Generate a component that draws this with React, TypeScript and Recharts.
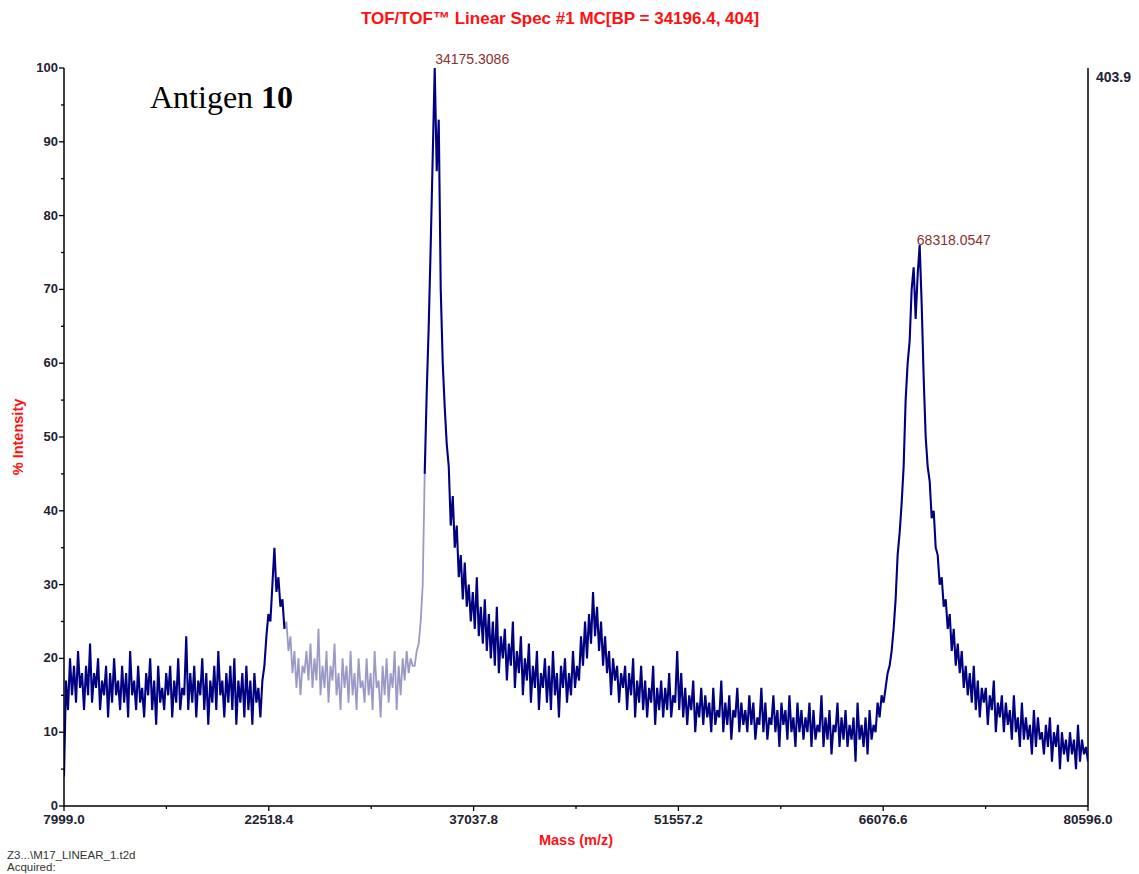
import React from 'react';
import { LineChart, Line, XAxis, YAxis, ReferenceLine, ReferenceDot } from 'recharts';

const MASS_MIN = 7999.0;
const MASS_MAX = 80596.0;

const X_TICKS_MAJOR = [7999.0, 22518.4, 37037.8, 51557.2, 66076.6, 80596.0];
const X_TICKS_MINOR = [15258.7, 29777.9, 44297.5, 58816.9, 73336.3];
const Y_TICKS_MAJOR = [0, 10, 20, 30, 40, 50, 60, 70, 80, 90, 100];
const Y_TICKS_MINOR = [5, 15, 25, 35, 45, 55, 65, 75, 85, 95];

// % intensity, sampled evenly from 7999.0 to 80596.0 m/z
const SEG_BASELINE = [
  4, 17, 13, 20, 15, 19, 14, 21, 16, 18,
  13, 19, 15, 22, 14, 18, 16, 20, 13, 17,
  15, 19, 12, 18, 14, 20, 15, 17, 13, 19,
  14, 18, 12, 21, 15, 17, 13, 19, 14, 16,
  12, 18, 15, 20, 13, 17, 11, 19, 14, 16,
  13, 18, 15, 19, 12, 17, 14, 20, 13, 16,
  15, 23, 13, 18, 14, 19, 12, 17, 15, 20,
  13, 18, 11, 17, 14, 19, 13, 21, 15, 17,
  12, 18, 14, 19, 13, 20, 11, 17, 14, 18,
  12, 19, 13, 17, 11, 18, 14, 16, 12, 17,
];
const SEG_SMALL_PEAK = [
  19, 23, 26, 25, 30, 35, 29, 31, 27, 28,
  24, 25, 21, 23, 18, 21, 16, 20, 15, 19,
  18, 21, 17, 22, 16, 20, 17, 24, 15, 19,
  16, 21, 14, 19, 17, 22, 15, 18, 13, 20,
  16, 19, 14, 21, 15, 18, 13, 20, 16, 17,
  14, 20, 15, 18, 13, 21, 16, 17, 12, 19,
  15, 20, 14, 18, 16, 21, 13, 19, 15, 20,
  17, 21, 18, 20, 19, 19, 21, 22, 25, 30,
];
const SEG_MAIN_PEAK = [45, 56, 65, 76, 88, 100, 86, 93, 70, 60];
const SEG_MIDDLE = [
  54, 49, 46, 38, 42, 35, 38, 31, 34, 28,
  33, 27, 30, 25, 29, 24, 31, 23, 27, 22,
  28, 21, 26, 20, 25, 19, 27, 18, 23, 20,
  24, 17, 22, 19, 25, 16, 21, 18, 23, 15,
  20, 17, 22, 14, 19, 16, 21, 13, 18, 16,
  20, 14, 19, 13, 21, 15, 18, 12, 19, 16,
  20, 14, 18, 15, 21, 16, 19, 17, 23, 19,
  25, 20, 26, 22, 29, 23, 27, 21, 25, 19,
  23, 18, 21, 15, 20, 17, 19, 14, 18, 16,
  19, 13, 18, 15, 20, 12, 17, 14, 19, 13,
  17, 12, 16, 14, 19, 11, 16, 13, 17, 12,
  16, 13, 18, 12, 15, 14, 21, 13, 18, 12,
  16, 11, 15, 13, 17, 10, 14, 12, 16, 11,
  15, 12, 14, 10, 16, 11, 13, 12, 17, 10,
  14, 11, 15, 9, 13, 12, 16, 10, 14, 11,
  13, 10, 15, 11, 14, 9, 12, 11, 16, 10,
  14, 9, 12, 11, 15, 10, 13, 8, 14, 11,
  13, 9, 15, 10, 12, 8, 14, 10, 13, 9,
  12, 10, 14, 8, 13, 9, 11, 10, 15, 8,
  12, 9, 13, 7, 11, 10, 14, 8, 12, 9,
  13, 8, 11, 9, 12, 6, 14, 9, 11, 8,
  12, 7, 13, 9, 11, 10, 14, 12, 15, 14,
];
const SEG_SECOND_PEAK = [
  16, 18, 19, 21, 24, 28, 34, 37, 41, 46,
  55, 60, 63, 70, 73, 66, 72, 76, 68, 58,
  50, 46, 44, 39, 40, 35, 34, 30, 31, 27,
];
const SEG_TAIL = [
  28, 24, 26, 21, 24, 19, 22, 18, 21, 16,
  19, 15, 18, 14, 19, 13, 17, 12, 16, 14,
  16, 11, 15, 13, 17, 10, 14, 12, 15, 10,
  14, 11, 13, 9, 15, 10, 12, 8, 14, 9,
  12, 9, 11, 7, 13, 8, 12, 9, 10, 7,
  11, 8, 12, 6, 10, 8, 11, 5, 10, 7,
  9, 6, 10, 7, 9, 5, 11, 6, 9, 7, 8, 6,
];

const INTENSITY = [
  ...SEG_BASELINE,
  ...SEG_SMALL_PEAK,
  ...SEG_MAIN_PEAK,
  ...SEG_MIDDLE,
  ...SEG_SECOND_PEAK,
  ...SEG_TAIL,
];

const PEAK_MASSES = [34175.3086, 68318.0547];
const PEAK_LABELS = ['34175.3086', '68318.0547'];
const PEAK_HEIGHTS = [100, 75.5];

// index range drawn in the lighter trace colour
const LIGHT_FROM = 110;
const LIGHT_TO = 180;

const rows = INTENSITY.map((v, i) => {
  const mass = MASS_MIN + (i * (MASS_MAX - MASS_MIN)) / (INTENSITY.length - 1);
  const inLight = i >= LIGHT_FROM && i <= LIGHT_TO;
  const edge = i === LIGHT_FROM || i === LIGHT_TO;
  return { mass, dark: !inLight || edge ? v : null, light: inLight ? v : null };
});

const X_TICKS = [...X_TICKS_MAJOR, ...X_TICKS_MINOR].sort((a, b) => a - b);
const Y_TICKS = [...Y_TICKS_MAJOR, ...Y_TICKS_MINOR].sort((a, b) => a - b);

const SANS = 'Liberation Sans, Arial, Helvetica, sans-serif';
const TICK_COLOR = '#222233';

const renderXTick = (props: any) => {
  const { x, y, payload } = props;
  const v = payload.value;
  const major = X_TICKS_MAJOR.includes(v);
  return (
    <g>
      <line x1={x} x2={x} y1={y} y2={y + (major ? 5 : 3)} stroke="#000" strokeWidth={1.3} />
      {major && (
        <text x={x} y={y + 18} textAnchor="middle" fontFamily={SANS} fontSize={13.5} fontWeight="bold" fill={TICK_COLOR}>
          {v.toFixed(1)}
        </text>
      )}
    </g>
  );
};

const renderYTick = (props: any) => {
  const { x, y, payload } = props;
  const v = payload.value;
  const major = Y_TICKS_MAJOR.includes(v);
  return (
    <g>
      <line x1={x - (major ? 5 : 3)} x2={x} y1={y} y2={y} stroke="#000" strokeWidth={1.3} />
      {major && (
        <text x={x - 6} y={y + 4} textAnchor="end" fontFamily={SANS} fontSize={13} fontWeight="bold" fill={TICK_COLOR}>
          {v}
        </text>
      )}
    </g>
  );
};

const makePeakLabel = (text: string) => (props: any) => {
  const vb = props.viewBox || {};
  const x = (vb.x ?? 0) + (vb.width ?? 0) / 2;
  const y = (vb.y ?? 0) + (vb.height ?? 0) / 2;
  return (
    <text x={x + 2} y={y - 4} fontFamily={SANS} fontSize={14} fill="#8b3030">
      {text}
    </text>
  );
};

export default function App() {
  return (
    <div style={{ position: 'absolute', left: 0, top: 0, width: 1139, height: 874, background: '#fff' }}>
      <LineChart width={1139} height={874} data={rows} margin={{ top: 68, right: 51, bottom: 0, left: 0 }}>
        <XAxis
          dataKey="mass"
          type="number"
          domain={[MASS_MIN, MASS_MAX]}
          ticks={X_TICKS}
          interval={0}
          tickLine={false}
          tickSize={0}
          tickMargin={0}
          height={68}
          axisLine={{ stroke: '#000', strokeWidth: 1.5 }}
          tick={renderXTick}
          allowDataOverflow
        />
        <YAxis
          type="number"
          domain={[0, 100]}
          ticks={Y_TICKS}
          interval={0}
          tickLine={false}
          tickSize={0}
          tickMargin={0}
          width={64}
          axisLine={{ stroke: '#000', strokeWidth: 1.5 }}
          tick={renderYTick}
          allowDataOverflow
        />
        <ReferenceLine x={MASS_MAX} stroke="#000" strokeWidth={1.5} ifOverflow="visible" />
        <Line
          dataKey="light"
          type="linear"
          stroke="#9a9ac6"
          strokeWidth={1.8}
          dot={false}
          isAnimationActive={false}
          connectNulls={false}
        />
        <Line
          dataKey="dark"
          type="linear"
          stroke="#000080"
          strokeWidth={2.1}
          dot={false}
          isAnimationActive={false}
          connectNulls={false}
        />
        {PEAK_MASSES.map((m, k) => (
          <ReferenceDot
            key={m}
            x={m}
            y={PEAK_HEIGHTS[k]}
            r={0}
            fill="none"
            stroke="none"
            ifOverflow="visible"
            label={makePeakLabel(PEAK_LABELS[k])}
          />
        ))}
      </LineChart>
      <svg
        width={1139}
        height={874}
        style={{ position: 'absolute', left: 0, top: 0, pointerEvents: 'none' }}
      >
        <text x={560} y={24} textAnchor="middle" fontFamily={SANS} fontSize={17} fontWeight="bold" fill="#ff1111">
          TOF/TOF™ Linear Spec #1 MC[BP = 34196.4, 404]
        </text>
        <text
          x={23}
          y={437}
          transform="rotate(-90 23 437)"
          textAnchor="middle"
          fontFamily={SANS}
          fontSize={14.5}
          fontWeight="bold"
          fill="#ff1111"
        >
          % Intensity
        </text>
        <text x={576} y={845} textAnchor="middle" fontFamily={SANS} fontSize={14.5} fontWeight="bold" fill="#ff1111">
          Mass (m/z)
        </text>
        <text x={1096} y={82} fontFamily={SANS} fontSize={14} fontWeight="bold" fill={TICK_COLOR}>
          403.9
        </text>
        <text x={7} y={859} fontFamily={SANS} fontSize={11.5} fill="#333">
          Z3...\M17_LINEAR_1.t2d
        </text>
        <text x={7} y={871} fontFamily={SANS} fontSize={11.5} fill="#333">
          Acquired:
        </text>
        <text x={150} y={108} fontFamily="Liberation Serif, 'Times New Roman', serif" fontSize={32} fill="#000">
          Antigen <tspan fontWeight="bold">10</tspan>
        </text>
      </svg>
    </div>
  );
}
